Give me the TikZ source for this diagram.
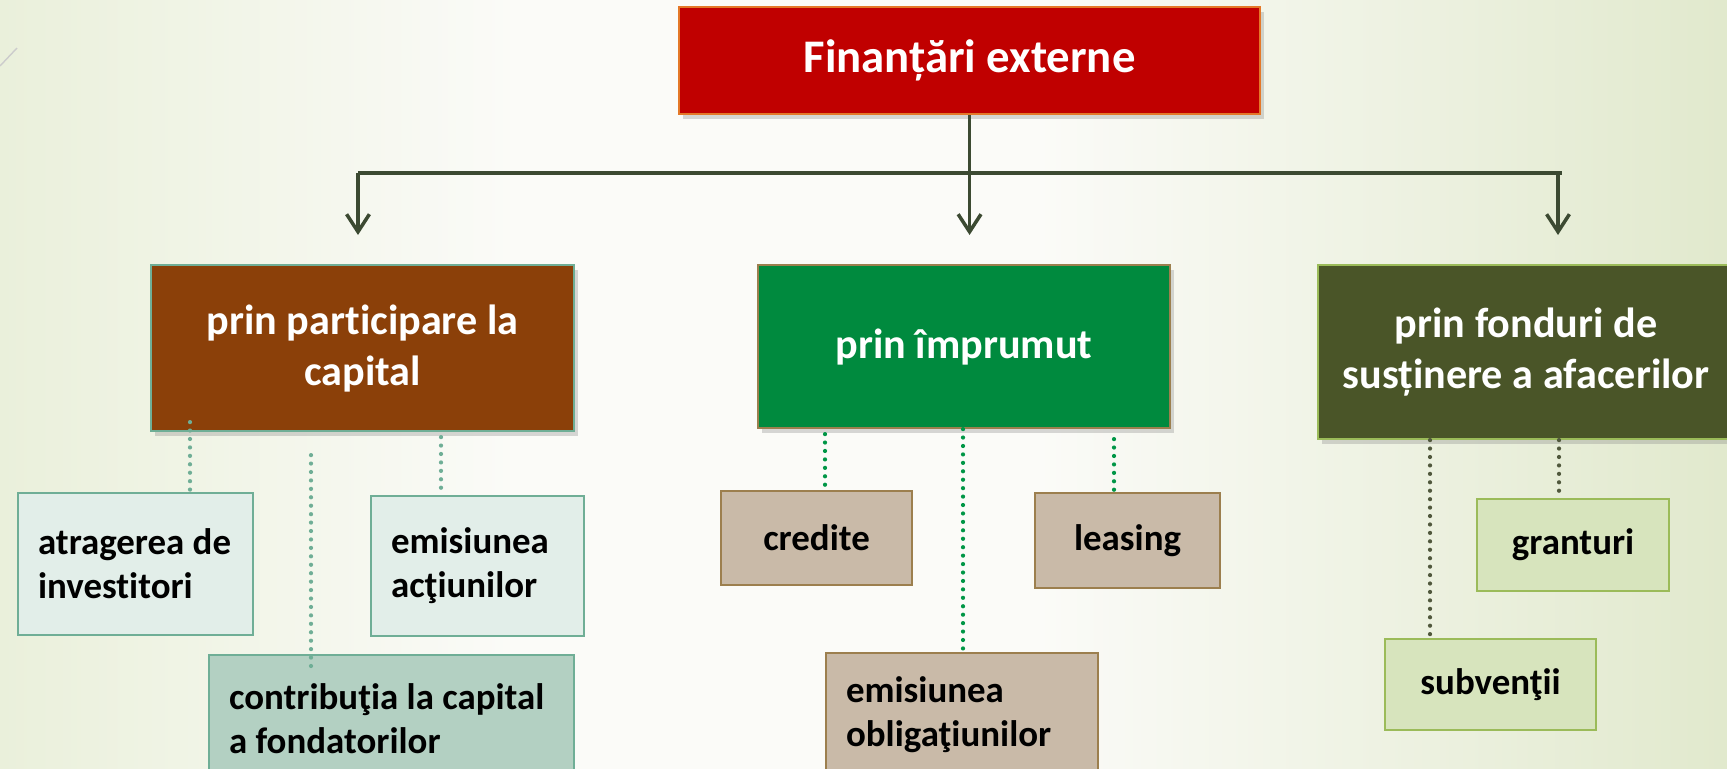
\documentclass[tikz,border=0pt]{standalone}
\usepackage{fontspec}
\setmainfont{Carlito}[Ligatures=NoCommon]
\usepackage{xcolor}
\usetikzlibrary{arrows.meta, shadows, calc}
\definecolor{bgl}{RGB}{234,240,219}
\definecolor{bgm}{RGB}{251,251,248}
\definecolor{bgr}{RGB}{225,233,205}
\definecolor{rosu}{RGB}{192,0,0}
\definecolor{portocaliu}{RGB}{228,120,40}
\definecolor{maro}{RGB}{139,64,9}
\definecolor{verde}{RGB}{0,138,62}
\definecolor{oliv}{RGB}{74,85,40}
\definecolor{linie}{RGB}{60,74,50}
\definecolor{teal}{RGB}{111,174,150}
\definecolor{tealdes}{RGB}{226,238,233}
\definecolor{tealmed}{RGB}{179,208,194}
\definecolor{bej}{RGB}{201,186,168}
\definecolor{bejbord}{RGB}{156,127,78}
\definecolor{olivdes}{RGB}{215,228,189}
\definecolor{olivbord}{RGB}{155,187,89}
\definecolor{verdepunct}{RGB}{0,150,70}
\definecolor{olivpunct}{RGB}{80,88,60}
\pgfdeclarehorizontalshading{fundal}{100bp}{color(0bp)=(bgl); color(25bp)=(bgl); color(40bp)=(bgm); color(55bp)=(bgm); color(75bp)=(bgr); color(100bp)=(bgr)}

\begin{document}
\begin{tikzpicture}[
    main/.style={anchor=north west, inner sep=0pt, line width=0.6pt, text=white, align=center,
        font=\fontsize{12}{14.5}\selectfont\bfseries,
        drop shadow={shadow xshift=1.2pt, shadow yshift=-1.5pt, opacity=0.3}},
    leaf/.style={anchor=north west, inner xsep=0.2cm, inner ysep=0pt, line width=0.6pt,
        font=\fontsize{10.5}{12.5}\selectfont\bfseries},
    arr/.style={draw=linie, line width=1pt, -{Straight Barb[length=5pt,width=6.5pt]}},
    bus/.style={draw=linie, line width=1pt},
    puncte/.style={line width=1.2pt, line cap=round, dash pattern=on 0pt off 2.4pt}
]
\useasboundingbox (0,0) rectangle (17.27,-7.68);
\clip (0,0) rectangle (17.27,-7.68);
\shade[shading=fundal] (0,0) rectangle (17.27,-7.68);
\draw[black!20, line width=0.4pt] (0,-0.66) -- (0.17,-0.48);

\node[main, fill=rosu, draw=portocaliu, minimum width=5.81cm, minimum height=1.07cm, font=\fontsize{13.3}{16}\selectfont\bfseries] (fe) at (6.78,-0.06) {Finanțări externe};

\node[main, fill=maro, draw=teal, minimum width=4.23cm, minimum height=1.66cm] (pc) at (1.50,-2.64) {prin participare la\\capital};
\node[main, fill=verde, draw=bejbord, minimum width=4.12cm, minimum height=1.63cm] (pi) at (7.57,-2.64) {prin împrumut};
\node[main, fill=oliv, draw=olivbord, minimum width=4.16cm, minimum height=1.74cm] (pf) at (13.17,-2.64) {prin fonduri de\\susținere a afacerilor};

\node[leaf, fill=tealdes, draw=teal, text width=1.95cm, minimum height=1.42cm, align=flush left] (ai) at (0.17,-4.92) {atragerea~de\\investitori};
\node[leaf, fill=tealdes, draw=teal, text width=1.73cm, minimum height=1.40cm, align=flush left] (ea) at (3.70,-4.95) {emisiunea\\acţiunilor};
\node[leaf, fill=tealmed, draw=teal, text width=3.25cm, minimum height=1.28cm, align=flush left] (cf) at (2.08,-6.54) {contribuţia~la~capital\\a~fondatorilor};

\node[leaf, fill=bej, draw=bejbord, text width=1.51cm, minimum height=0.94cm, align=center] (cr) at (7.20,-4.90) {credite};
\node[leaf, fill=bej, draw=bejbord, text width=1.45cm, minimum height=0.95cm, align=center] (ls) at (10.34,-4.92) {leasing};
\node[leaf, fill=bej, draw=bejbord, text width=2.32cm, minimum height=1.24cm, align=flush left] (eo) at (8.25,-6.52) {emisiunea\\obligaţiunilor};

\node[leaf, fill=olivdes, draw=olivbord, text width=1.52cm, minimum height=0.92cm, align=center] (gr) at (14.76,-4.98) {granturi};
\node[leaf, fill=olivdes, draw=olivbord, text width=1.71cm, minimum height=0.91cm, align=center] (sv) at (13.84,-6.38) {subvenţii};

\coordinate (bl) at (3.58,-1.73);
\coordinate (br) at (15.62,-1.73);
\coordinate (tl) at (3.58,-2.35);
\coordinate (tr) at (15.58,-2.35);

\draw[bus] (bl) -- (br);
\draw[arr] (fe.south) -- (fe.south |- tl);
\draw[arr] (bl) -- (tl);
\draw[arr] (tr |- bl) -- (tr);

\draw[puncte, teal] ($(pc.south -| 1.90,0)+(0,0.1)$) -- (ai.north -| 1.90,0);
\draw[puncte, teal] ($(pc.south -| 3.11,0)+(0,-0.23)$) -- ($(cf.north -| 3.11,0)+(0,-0.16)$);
\draw[puncte, teal] ($(pc.south -| 4.41,0)+(0,-0.05)$) -- (ea.north -| 4.41,0);
\draw[puncte, verdepunct] ($(pi.south -| 8.25,0)+(0,-0.05)$) -- (cr.north -| 8.25,0);
\draw[puncte, verdepunct] (pi.south -| 9.63,0) -- (eo.north -| 9.63,0);
\draw[puncte, verdepunct] ($(pi.south -| 11.14,0)+(0,-0.1)$) -- (ls.north -| 11.14,0);
\draw[puncte, olivpunct] (pf.south -| 14.30,0) -- (sv.north -| 14.30,0);
\draw[puncte, olivpunct] (pf.south -| 15.59,0) -- (gr.north -| 15.59,0);
\end{tikzpicture}
\end{document}
